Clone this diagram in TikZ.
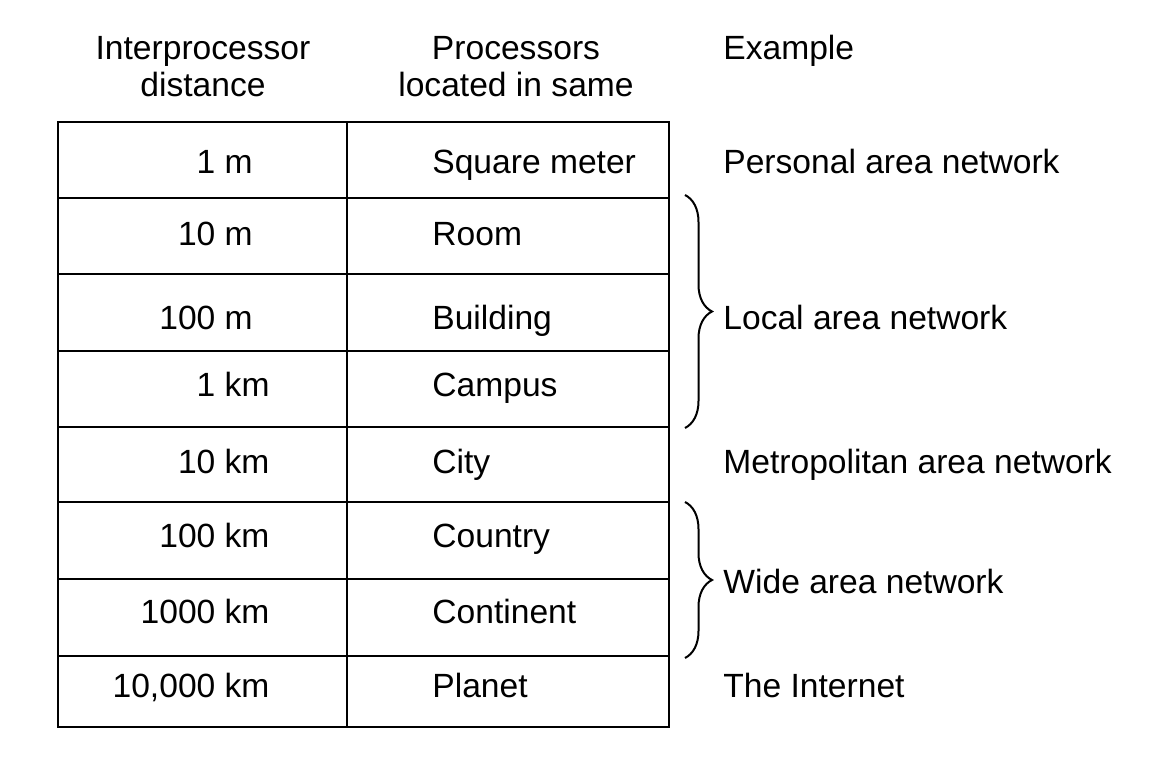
\documentclass[tikz,border=0pt]{standalone}
\usepackage{fontspec}
\setmainfont{Liberation Sans}
\usetikzlibrary{positioning}
\usetikzlibrary{decorations.pathreplacing}

\begin{document}
\begin{tikzpicture}[x = 0.5pt, y = -0.5pt,
                    font = \fontsize{16.8}{18.5}\selectfont,
                    grid/.style  = {line width = 1pt},
                    head/.style  = {anchor = base,
                                    inner sep = 0pt},
                    cell/.style  = {anchor = base west,
                                    inner sep = 0pt},
                    curly/.style = {decorate,
                                    decoration = {brace, amplitude = 13.5pt},
                                    line width = 1pt}]

\useasboundingbox (0,0) rectangle (1169,763);

% headings
\node[head] (hdist)  at (203,60) {Interprocessor};
\node[head] (hdist2) at (203,97) {distance};
\node[head] (hloc)   at (516,60) {Processors};
\node[head] (hloc2)  at (516,97) {located in same};
\node[cell] (hex)    at (723,60) {Example};

% table
\draw[grid] (58,122) rectangle (669,727);
\draw[grid] (347,122) -- (347,727);
\foreach \y in {198, 274, 351, 427, 502, 579, 656}
  \draw[grid] (58,\y) -- (669,\y);

\foreach \n/\u/\p/\y [count=\i] in {1/m/Square meter/174, 10/m/Room/246,
                                    100/m/Building/330, 1/km/Campus/397,
                                    10/km/City/474, 100/km/Country/548,
                                    1000/km/Continent/624,
                                    {10,000}/km/Planet/698}
{
  \node[cell] (d\i) at (215,\y) {\llap{\n}\ \u};
  \node[cell] (p\i) at (432,\y) {\p};
}

% examples
\node[cell] (pan)  at (723,174) {Personal area network};
\node[cell] (lan)  at (723,330) {Local area network};
\node[cell] (man)  at (723,474) {Metropolitan area network};
\node[cell] (wan)  at (723,594) {Wide area network};
\node[cell] (inet) at (723,698) {The Internet};

\coordinate (lant) at (685,195);
\coordinate (lanb) at (685,428);
\coordinate (want) at (685,502);
\coordinate (wanb) at (685,658);

\draw[curly] (lant) -- (lanb);
\draw[curly] (want) -- (wanb);

\end{tikzpicture}
\end{document}
